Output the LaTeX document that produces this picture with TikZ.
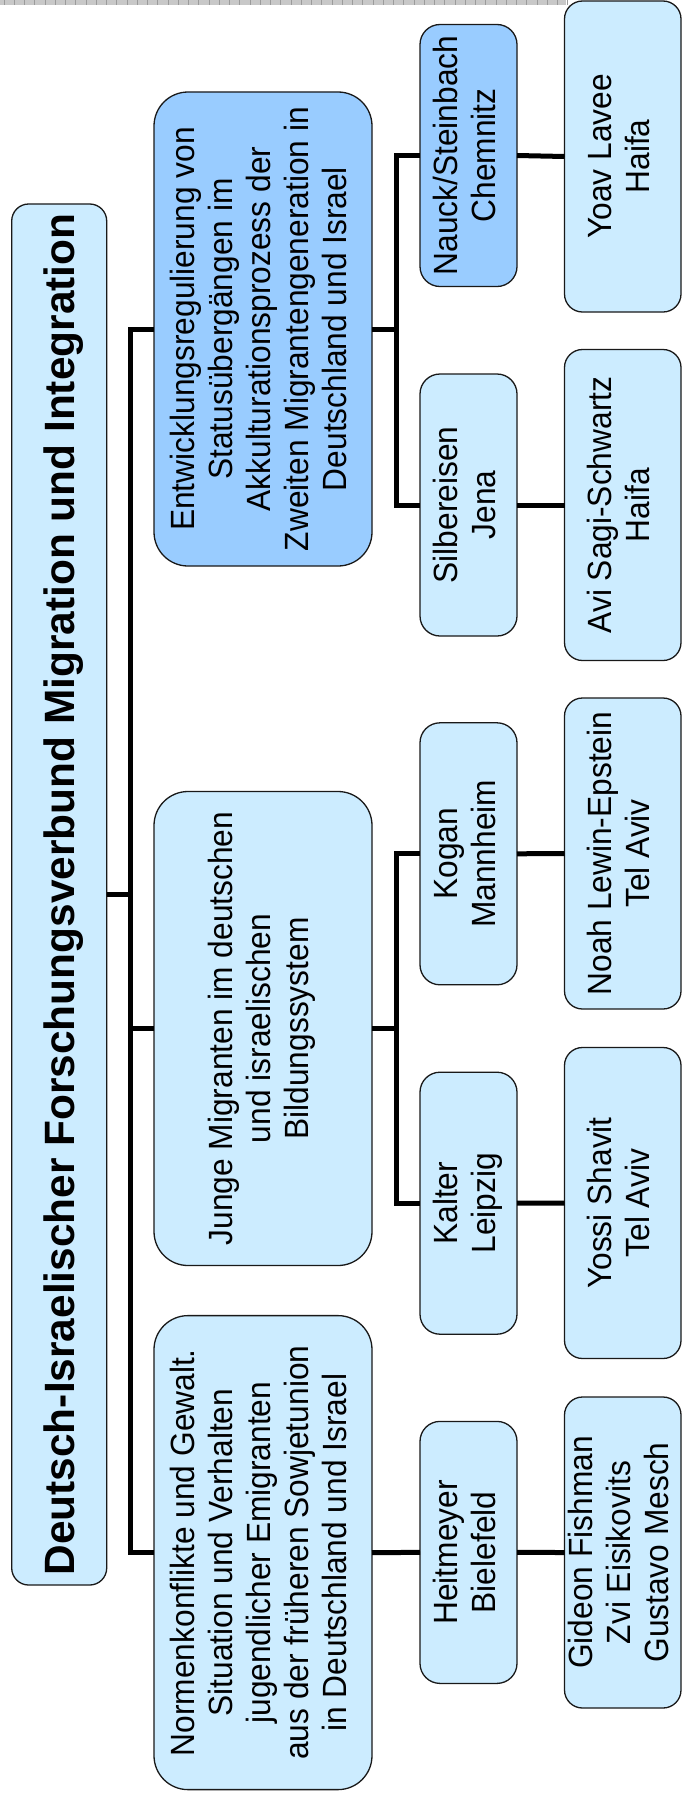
\documentclass[tikz,border=0pt]{standalone}
\usepackage{fontspec}
\setmainfont{Liberation Sans}
\usepackage{graphicx}
\definecolor{lightbox}{RGB}{204,236,255}
\definecolor{darkbox}{RGB}{153,204,255}
\definecolor{bandgray}{RGB}{200,200,200}
\definecolor{bandline}{RGB}{155,155,155}
\newcommand{\rtext}[1]{\rotatebox{90}{\scalebox{1}[1.06]{\begin{tabular}{@{}c@{}}#1\end{tabular}}}}
\newcommand{\rtitle}[1]{\rotatebox{90}{\raisebox{-4.5bp}[\height][\depth]{#1}}}
\begin{document}
\begin{tikzpicture}[x=1bp,y=1bp,
  boxbase/.style={draw=black!90, line width=1.3bp, inner sep=0pt, outer sep=0pt, text=black, fill=lightbox},
  rootbox/.style={boxbase, rounded corners=17bp, minimum width=95bp, minimum height=1381bp, font=\fontsize{42.4bp}{50bp}\selectfont\bfseries},
  lvlone/.style={boxbase, rounded corners=34bp, minimum width=218bp, minimum height=474bp, font=\fontsize{31.7bp}{35.85bp}\selectfont},
  lvltwo/.style={boxbase, rounded corners=20bp, minimum width=97bp, minimum height=262bp, font=\fontsize{31.7bp}{35.85bp}\selectfont},
  lvlthree/.style={boxbase, rounded corners=18bp, minimum width=116.5bp, minimum height=311bp, font=\fontsize{31.7bp}{35.85bp}\selectfont},
  conn/.style={line width=5bp, black, line join=miter},
  darker/.style={fill=darkbox},
  bandtick/.style={draw=bandline, line width=0.9bp}]
\fill[white] (0,0) rectangle (682,-1796);
\useasboundingbox (0,0) rectangle (682,-1796);
% top band
\fill[bandgray] (0,0) rectangle (566,-4.7);
\foreach \i in {0,...,55} \draw[bandtick] (\i*10.25+4,0) -- ++(0,-4.7);
% root
\node[rootbox] (root) at (59.2,-894.5) {\rtitle{Deutsch-Israelischer Forschungsverbund Migration und Integration}};
% level one
\node[lvlone, darker] (E) at (263,-329) {\rtext{Entwicklungsregulierung von\\Statusübergängen im\\Akkulturationsprozess der\\Zweiten Migrantengeneration in\\Deutschland und Israel}};
\node[lvlone] (J) at (263,-1028.5) {\rtext{Junge Migranten im deutschen\\und israelischen\\Bildungssystem}};
\node[lvlone] (N) at (263,-1552.6) {\rtext{Normenkonflikte und Gewalt.\\Situation und Verhalten\\jugendlicher Emigranten\\aus der früheren Sowjetunion\\in Deutschland und Israel}};
% level two
\node[lvltwo, darker] (nauck) at (468.5,-155.5) {\rtext{Nauck/Steinbach\\Chemnitz}};
\node[lvltwo] (silb) at (468.5,-505) {\rtext{Silbereisen\\Jena}};
\node[lvltwo] (kogan) at (468.5,-853.8) {\rtext{Kogan\\Mannheim}};
\node[lvltwo] (kalter) at (468.5,-1203.2) {\rtext{Kalter\\Leipzig}};
\node[lvltwo] (heit) at (468.5,-1552.4) {\rtext{Heitmeyer\\Bielefeld}};
% level three
\node[lvlthree] (yoav) at (622.75,-156.5) {\rtext{Yoav Lavee\\Haifa}};
\node[lvlthree] (avi) at (622.75,-505) {\rtext{Avi Sagi-Schwartz\\Haifa}};
\node[lvlthree] (noah) at (622.75,-853.5) {\rtext{Noah Lewin-Epstein\\Tel Aviv}};
\node[lvlthree] (yossi) at (622.75,-1203) {\rtext{Yossi Shavit\\Tel Aviv}};
\node[lvlthree] (gideon) at (622.75,-1552.5) {\rtext{Gideon Fishman\\Zvi Eisikovits\\Gustavo Mesch}};
% connectors
\draw[conn] (root.east) -- ++(23.5,0) coordinate (rj);
\draw[conn] (E.west) -| (rj) |- (N.west);
\draw[conn] (J.west) -- (J.west -| rj);
\draw[conn] (E.east) -- ++(24,0) coordinate (ej);
\draw[conn] (nauck.west) -| (ej) |- (silb.west);
\draw[conn] (J.east) -- ++(24,0) coordinate (jj);
\draw[conn] (kogan.west) -| (jj) |- (kalter.west);
\draw[conn] (N.east) -- (heit.west);
\draw[conn] (nauck.east) -- (yoav.west);
\draw[conn] (silb.east) -- (avi.west);
\draw[conn] (kogan.east) -- (noah.west);
\draw[conn] (kalter.east) -- (yossi.west);
\draw[conn] (heit.east) -- (gideon.west);
\end{tikzpicture}
\end{document}
